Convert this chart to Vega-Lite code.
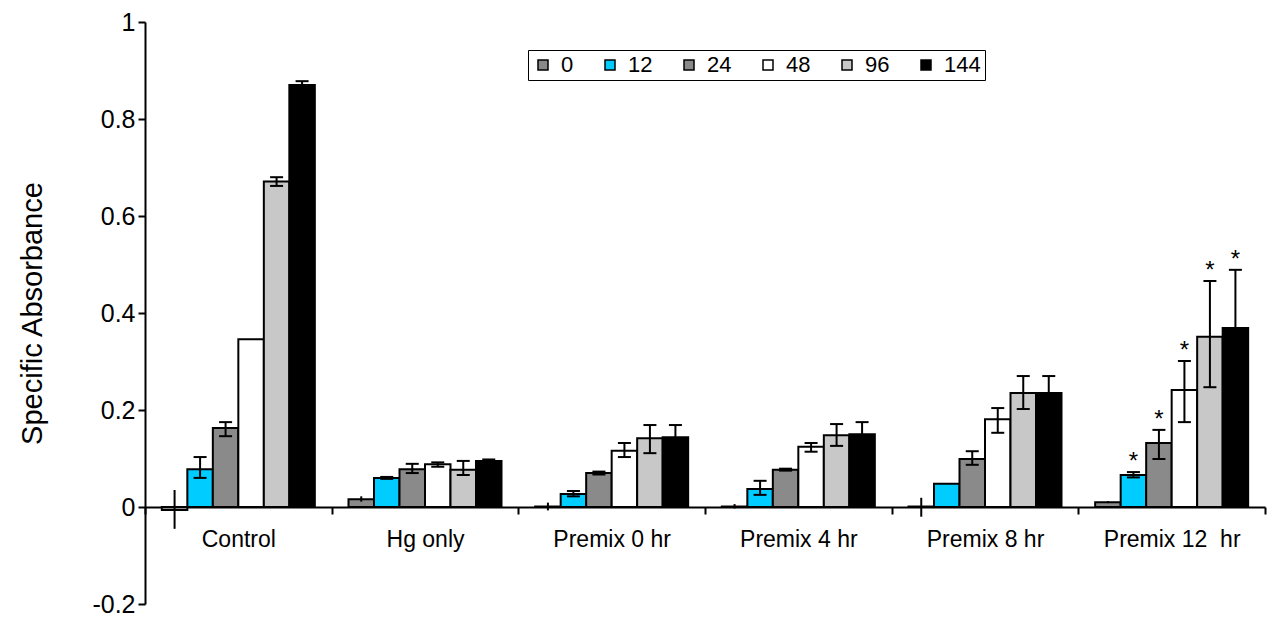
{
  "$schema": "https://vega.github.io/schema/vega-lite/v6.json",
  "width": 1120,
  "height": 582,
  "autosize": {"type": "none"},
  "padding": {"left": 145, "top": 22, "right": 8, "bottom": 19},
  "background": "white",
  "config": {
    "font": "Liberation Sans",
    "view": {"stroke": null},
    "axis": {"grid": false, "domainColor": "black", "tickColor": "black", "labelColor": "black", "titleColor": "black", "domainWidth": 2, "tickWidth": 2}
  },
  "data": {
    "values": [
      {"group": "Control", "series": "0", "value": -0.006, "lo": -0.045, "hi": 0.035},
      {"group": "Control", "series": "12", "value": 0.078, "lo": 0.060, "hi": 0.103},
      {"group": "Control", "series": "24", "value": 0.163, "lo": 0.146, "hi": 0.175},
      {"group": "Control", "series": "48", "value": 0.346, "lo": null, "hi": null},
      {"group": "Control", "series": "96", "value": 0.671, "lo": 0.662, "hi": 0.680},
      {"group": "Control", "series": "144", "value": 0.870, "lo": 0.862, "hi": 0.878},
      {"group": "Hg only", "series": "0", "value": 0.016, "lo": 0.011, "hi": 0.022},
      {"group": "Hg only", "series": "12", "value": 0.060, "lo": 0.058, "hi": 0.062},
      {"group": "Hg only", "series": "24", "value": 0.078, "lo": 0.070, "hi": 0.089},
      {"group": "Hg only", "series": "48", "value": 0.088, "lo": 0.083, "hi": 0.092},
      {"group": "Hg only", "series": "96", "value": 0.077, "lo": 0.066, "hi": 0.095},
      {"group": "Hg only", "series": "144", "value": 0.095, "lo": 0.092, "hi": 0.098},
      {"group": "Premix 0 hr", "series": "0", "value": 0.001, "lo": -0.007, "hi": 0.009},
      {"group": "Premix 0 hr", "series": "12", "value": 0.027, "lo": 0.022, "hi": 0.033},
      {"group": "Premix 0 hr", "series": "24", "value": 0.070, "lo": 0.067, "hi": 0.073},
      {"group": "Premix 0 hr", "series": "48", "value": 0.116, "lo": 0.103, "hi": 0.132},
      {"group": "Premix 0 hr", "series": "96", "value": 0.142, "lo": 0.111, "hi": 0.169},
      {"group": "Premix 0 hr", "series": "144", "value": 0.144, "lo": 0.119, "hi": 0.169},
      {"group": "Premix 4 hr", "series": "0", "value": 0.001, "lo": -0.003, "hi": 0.006},
      {"group": "Premix 4 hr", "series": "12", "value": 0.037, "lo": 0.025, "hi": 0.054},
      {"group": "Premix 4 hr", "series": "24", "value": 0.077, "lo": 0.075, "hi": 0.079},
      {"group": "Premix 4 hr", "series": "48", "value": 0.124, "lo": 0.114, "hi": 0.132},
      {"group": "Premix 4 hr", "series": "96", "value": 0.148, "lo": 0.126, "hi": 0.171},
      {"group": "Premix 4 hr", "series": "144", "value": 0.150, "lo": 0.125, "hi": 0.175},
      {"group": "Premix 8 hr", "series": "0", "value": 0.001, "lo": -0.020, "hi": 0.019},
      {"group": "Premix 8 hr", "series": "12", "value": 0.048, "lo": null, "hi": null},
      {"group": "Premix 8 hr", "series": "24", "value": 0.099, "lo": 0.087, "hi": 0.115},
      {"group": "Premix 8 hr", "series": "48", "value": 0.181, "lo": 0.153, "hi": 0.204},
      {"group": "Premix 8 hr", "series": "96", "value": 0.235, "lo": 0.202, "hi": 0.270},
      {"group": "Premix 8 hr", "series": "144", "value": 0.235, "lo": 0.200, "hi": 0.270},
      {"group": "Premix 12  hr", "series": "0", "value": 0.010, "lo": 0.008, "hi": 0.012},
      {"group": "Premix 12  hr", "series": "12", "value": 0.066, "lo": 0.061, "hi": 0.072, "sig": "*"},
      {"group": "Premix 12  hr", "series": "24", "value": 0.132, "lo": 0.099, "hi": 0.159, "sig": "*"},
      {"group": "Premix 12  hr", "series": "48", "value": 0.241, "lo": 0.175, "hi": 0.301, "sig": "*"},
      {"group": "Premix 12  hr", "series": "96", "value": 0.351, "lo": 0.247, "hi": 0.466, "sig": "*"},
      {"group": "Premix 12  hr", "series": "144", "value": 0.369, "lo": 0.249, "hi": 0.489, "sig": "*"}
    ]
  },
  "encoding": {
    "x": {
      "field": "group",
      "type": "nominal",
      "sort": ["Control", "Hg only", "Premix 0 hr", "Premix 4 hr", "Premix 8 hr", "Premix 12  hr"],
      "scale": {"paddingInner": 0, "paddingOuter": 0},
      "axis": {"title": null, "labelAngle": 0, "labelFontSize": 23, "tickBand": "extent", "tickSize": 7, "offset": -97, "labelPadding": 14, "labelExpr": "replace(datum.label, '  ', '\u00a0 ')"}
    },
    "xOffset": {
      "field": "series",
      "type": "nominal",
      "sort": ["0", "12", "24", "48", "96", "144"],
      "scale": {"paddingInner": 0, "paddingOuter": 0.66}
    }
  },
  "layer": [
    {
      "mark": {"type": "bar", "stroke": "black", "strokeWidth": 2},
      "encoding": {
        "y": {
          "field": "value",
          "type": "quantitative",
          "scale": {"domain": [-0.2, 1], "nice": false, "zero": false},
          "axis": {
            "title": "Specific Absorbance",
            "values": [-0.2, 0, 0.2, 0.4, 0.6, 0.8, 1],
            "labelExpr": "datum.value < 0 ? '-' + format(-datum.value, '~g') : format(datum.value, '~g')",
            "labelFontSize": 25,
            "titleFontSize": 29,
            "titleFontWeight": "normal",
            "tickSize": 7,
            "labelPadding": 3,
            "titlePadding": 44
          }
        },
        "color": {
          "field": "series",
          "type": "nominal",
          "sort": ["0", "12", "24", "48", "96", "144"],
          "scale": {"domain": ["0", "12", "24", "48", "96", "144"], "range": ["#8a8a8a", "#00ccff", "#8a8a8a", "#ffffff", "#c8c8c8", "#000000"]},
          "legend": {
            "title": null,
            "orient": "none",
            "legendX": 383,
            "legendY": 28,
            "direction": "horizontal",
            "strokeColor": "black",
            "padding": 4,
            "columnPadding": 25,
            "symbolType": "square",
            "symbolSize": 100,
            "symbolStrokeColor": "black",
            "symbolStrokeWidth": 1.5,
            "labelFontSize": 22,
            "labelColor": "black",
            "labelOffset": 7
          }
        }
      }
    },
    {
      "transform": [{"filter": "datum.hi != null"}],
      "mark": {"type": "rule", "strokeWidth": 2, "color": "black"},
      "encoding": {
        "y": {"field": "lo", "type": "quantitative"},
        "y2": {"field": "hi"}
      }
    },
    {
      "transform": [{"filter": "datum.hi != null && datum.series != '0'"}],
      "mark": {"type": "tick", "orient": "horizontal", "size": 13, "thickness": 2, "color": "black", "opacity": 1},
      "encoding": {
        "y": {"field": "hi", "type": "quantitative"}
      }
    },
    {
      "transform": [{"filter": "datum.hi != null && datum.series != '0'"}],
      "mark": {"type": "tick", "orient": "horizontal", "size": 13, "thickness": 2, "color": "black", "opacity": 1},
      "encoding": {
        "y": {"field": "lo", "type": "quantitative"}
      }
    },
    {
      "transform": [{"filter": "datum.sig != null"}],
      "mark": {"type": "text", "fontSize": 24, "dy": -3, "baseline": "alphabetic", "color": "black"},
      "encoding": {
        "y": {"field": "hi", "type": "quantitative"},
        "text": {"field": "sig"}
      }
    }
  ]
}
